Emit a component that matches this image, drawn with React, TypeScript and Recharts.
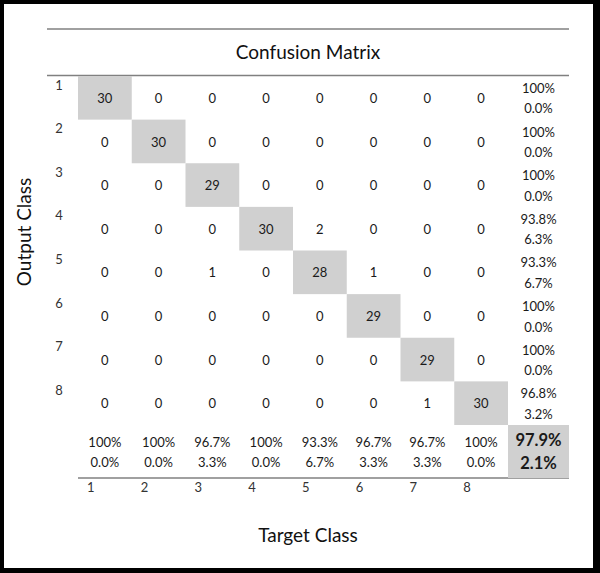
import { ScatterChart, Scatter, XAxis, YAxis } from 'recharts';

// classes 1..8, rows = output class, columns = target class
const classes = [1, 2, 3, 4, 5, 6, 7, 8];
const counts = [
  [30, 0, 0, 0, 0, 0, 0, 0],
  [0, 30, 0, 0, 0, 0, 0, 0],
  [0, 0, 29, 0, 0, 0, 0, 0],
  [0, 0, 0, 30, 2, 0, 0, 0],
  [0, 0, 1, 0, 28, 1, 0, 0],
  [0, 0, 0, 0, 0, 29, 0, 0],
  [0, 0, 0, 0, 0, 0, 29, 0],
  [0, 0, 0, 0, 0, 0, 1, 30],
];
const rowRate = ['100%', '100%', '100%', '93.8%', '93.3%', '100%', '100%', '96.8%'];
const rowErr = ['0.0%', '0.0%', '0.0%', '6.3%', '6.7%', '0.0%', '0.0%', '3.2%'];
const colRate = ['100%', '100%', '96.7%', '100%', '93.3%', '96.7%', '96.7%', '100%'];
const colErr = ['0.0%', '0.0%', '3.3%', '0.0%', '6.7%', '3.3%', '3.3%', '0.0%'];
const totalRate = '97.9%';
const totalErr = '2.1%';

const FONT = 'Lato, "Open Sans", sans-serif';
const GRAY = '#d0d0d0';
const LINE = '#808080';
const TEXT = '#1a1a1a';

// layout of the grid
const CELL_W = 53.75;
const CELL_H = 43.625;
const SUM_W = 61;
const SUM_H = 53;
const SUM = classes.length + 1;
const X_MAX = classes.length + 0.5 + SUM_W / CELL_W;
const Y_MAX = classes.length + 0.5 + SUM_H / CELL_H;

const cellPoints = counts.flatMap((row, r) =>
  row.map((v, c) => ({ x: classes[c], y: classes[r], text: [String(v)], shaded: r === c }))
);
const rowPoints = classes.map((k, i) => ({ x: SUM, y: k, text: [rowRate[i], rowErr[i]], shaded: false }));
const colPoints = classes.map((k, i) => ({ x: k, y: SUM, text: [colRate[i], colErr[i]], shaded: false }));
const totalPoint = [{ x: SUM, y: SUM, text: [totalRate, totalErr], shaded: true, bold: true }];

const CellShape = (props: any) => {
  const { cx, cy, payload } = props;
  const w = payload.x === SUM ? SUM_W : CELL_W;
  const h = payload.y === SUM ? SUM_H : CELL_H;
  const left = cx - CELL_W / 2;
  const top = cy - CELL_H / 2;
  const mx = left + w / 2;
  const my = top + h / 2;
  const lines: string[] = payload.text;
  const size = payload.bold ? 16.5 : 13;
  const offsets = lines.length === 1 ? [0.5] : payload.bold ? [-11.5, 11.5] : [-9.5, 11];
  return (
    <g>
      {payload.shaded && <rect x={left} y={top} width={w} height={h} fill={GRAY} />}
      {lines.map((t, i) => (
        <text
          key={i}
          x={mx}
          y={my + offsets[i] + size * 0.36}
          textAnchor="middle"
          fontSize={size}
          fontWeight={payload.bold ? 700 : 400}
          fill={TEXT}
          fontFamily={FONT}
        >
          {t}
        </text>
      ))}
    </g>
  );
};

const XTick = (props: any) => {
  const { x, y, payload } = props;
  return (
    <text x={x - 14} y={y + 13.5} textAnchor="middle" fontSize={13} fill="#333" fontFamily={FONT}>
      {payload.value}
    </text>
  );
};

const YTick = (props: any) => {
  const { x, y, payload } = props;
  return (
    <text x={x - 19} y={y - 8.3} textAnchor="middle" fontSize={13} fill="#333" fontFamily={FONT}>
      {payload.value}
    </text>
  );
};

export default function App() {
  return (
    <div style={{ position: 'absolute', left: 0, top: 0, width: 600, height: 573, background: '#000', fontFamily: FONT }}>
      <div style={{ position: 'absolute', left: 4, top: 4, width: 589, height: 564, background: '#fff' }} />
      <div style={{ position: 'absolute', left: 0, top: 0 }}>
        <ScatterChart width={600} height={573} margin={{ top: 76, right: 31, bottom: 65, left: 0 }}>
          <XAxis
            type="number"
            dataKey="x"
            domain={[0.5, X_MAX]}
            ticks={classes}
            interval={0}
            tickLine={false}
            tickSize={0}
            tickMargin={0}
            height={30}
            axisLine={{ stroke: LINE, strokeWidth: 1.5 }}
            tick={<XTick />}
          />
          <YAxis
            type="number"
            dataKey="y"
            reversed
            domain={[0.5, Y_MAX]}
            ticks={classes}
            interval={0}
            tickLine={false}
            tickSize={0}
            tickMargin={0}
            width={78}
            axisLine={false}
            tick={<YTick />}
          />
          <Scatter data={cellPoints} shape={<CellShape />} isAnimationActive={false} />
          <Scatter data={rowPoints} shape={<CellShape />} isAnimationActive={false} />
          <Scatter data={colPoints} shape={<CellShape />} isAnimationActive={false} />
          <Scatter data={totalPoint} shape={<CellShape />} isAnimationActive={false} />
          <line x1={47} x2={569} y1={29} y2={29} stroke={LINE} strokeWidth={1.5} />
          <line x1={47} x2={569} y1={75.5} y2={75.5} stroke={LINE} strokeWidth={1.5} />
          <text x={308} y={58.5} textAnchor="middle" fontSize={19} fill="#111" fontFamily={FONT}>
            Confusion Matrix
          </text>
          <text
            x={31}
            y={232}
            textAnchor="middle"
            fontSize={19}
            fill="#111"
            fontFamily={FONT}
            transform="rotate(-90 31 232)"
          >
            Output Class
          </text>
          <text x={308} y={542} textAnchor="middle" fontSize={19} fill="#111" fontFamily={FONT}>
            Target Class
          </text>
        </ScatterChart>
      </div>
    </div>
  );
}
